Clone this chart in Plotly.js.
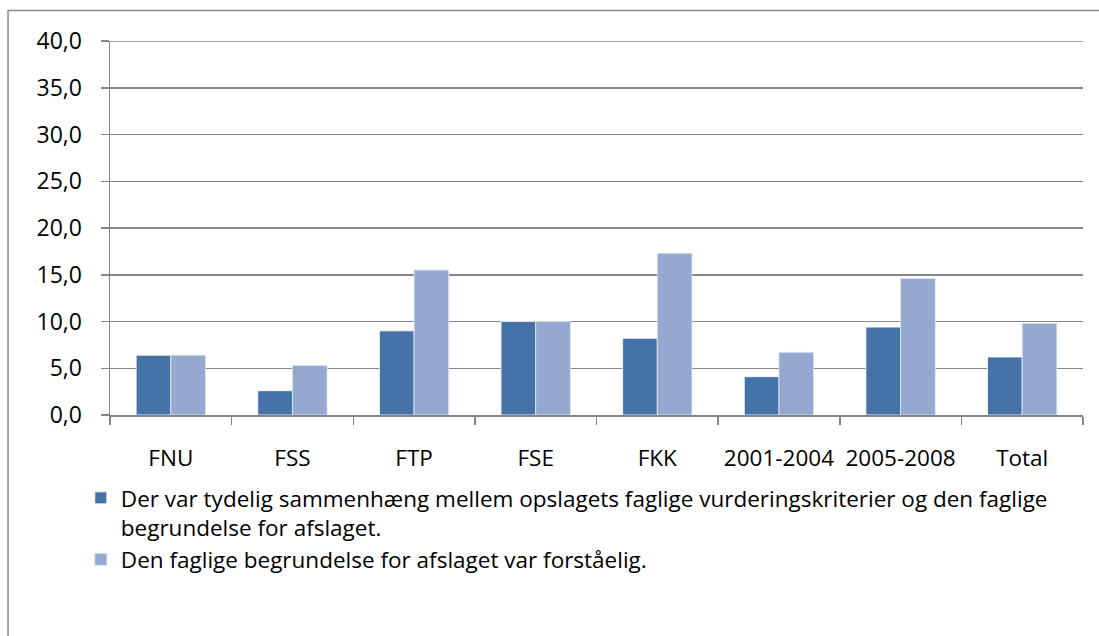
<!DOCTYPE html>
<html>
<head>
<meta charset="utf-8">
<script src="https://cdn.plot.ly/plotly-3.0.1.min.js"></script>
<style>html,body{margin:0;padding:0;background:#fff;}#chart{width:1099px;height:636px;}</style>
</head>
<body>
<div id="chart"></div>
<script>
const categories = ['FNU', 'FSS', 'FTP', 'FSE', 'FKK', '2001-2004', '2005-2008', 'Total'];
const seriesNames = [
  'Der var tydelig sammenhæng mellem opslagets faglige vurderingskriterier og den faglige<br>begrundelse for afslaget.',
  'Den faglige begrundelse for afslaget var forståelig.'
];
const clearLink = [6.4, 2.6, 9.0, 10.0, 8.2, 4.1, 9.4, 6.2];
const understandable = [6.4, 5.3, 15.5, 10.0, 17.3, 6.7, 14.6, 9.8];
const yTicks = [0, 5, 10, 15, 20, 25, 30, 35, 40];
const yMax = 40;

const FONT = 'Open Sans, Liberation Sans, sans-serif';
const traces = [
  {type: 'bar', x: categories, y: clearLink, name: seriesNames[0],
   marker: {color: '#4573A7', line: {color: '#ffffff', width: 0.8}}, hoverinfo: 'x+y'},
  {type: 'bar', x: categories, y: understandable, name: seriesNames[1],
   marker: {color: '#95A9D0', line: {color: '#dfe6f2', width: 0.8}}, hoverinfo: 'x+y'}
];

const layout = {
  width: 1099, height: 636,
  margin: {l: 110, r: 16, t: 41, b: 221, pad: 0},
  paper_bgcolor: '#ffffff', plot_bgcolor: '#ffffff',
  separators: ', ',
  font: {family: FONT, size: 23, color: '#000000'},
  barmode: 'group', bargap: 0.43, bargroupgap: 0,
  showlegend: true,
  legend: {
    orientation: 'v', x: -0.03, xanchor: 'left', y: -0.165, yanchor: 'top',
    font: {family: FONT, size: 22.5, color: '#000000'},
    valign: 'top', tracegroupgap: 6, itemwidth: 30, traceorder: 'normal',
    bgcolor: 'rgba(0,0,0,0)'
  },
  xaxis: {
    type: 'category', showgrid: false, showline: true, linecolor: '#868686', linewidth: 1.5,
    ticks: 'outside', ticklen: 8, tickcolor: '#868686', tickwidth: 1.5, tickson: 'boundaries',
    tickangle: 0, automargin: false,
    ticklabelstandoff: 22, tickfont: {family: FONT, size: 22.5, color: '#000000'},
    fixedrange: true, zeroline: false
  },
  yaxis: {
    range: [0, yMax], tickvals: yTicks, tickformat: '.1f',
    showgrid: true, gridcolor: '#868686', gridwidth: 1.5,
    showline: true, linecolor: '#868686', linewidth: 1.5,
    ticks: 'outside', ticklen: 8, tickcolor: '#868686', tickwidth: 1.5,
    ticklabelstandoff: 14, tickfont: {family: FONT, size: 23, color: '#000000'},
    zeroline: false, fixedrange: true
  },
  shapes: [{
    type: 'rect', xref: 'paper', yref: 'paper',
    x0: -0.1048, x1: 1.06, y0: -0.7, y1: 1.0816,
    line: {color: '#8c8c8c', width: 1.5}, fillcolor: 'rgba(0,0,0,0)', layer: 'below'
  }, {
    type: 'line', xref: 'paper', yref: 'y', x0: 0, x1: 1, y0: yMax, y1: yMax,
    line: {color: '#868686', width: 1.5}, layer: 'below'
  }]
};

Plotly.newPlot('chart', traces, layout, {displayModeBar: false, staticPlot: true});
</script>
</body>
</html>
